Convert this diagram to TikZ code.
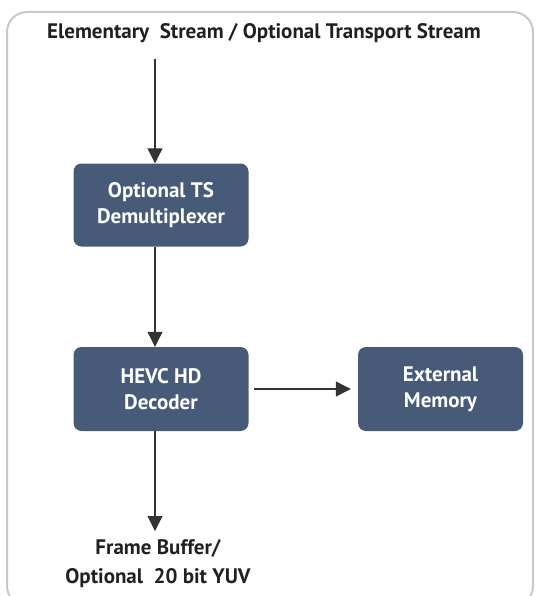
\documentclass[tikz,border=0pt]{standalone}
\usepackage{fontspec}
\setmainfont{PT Sans}
\usetikzlibrary{arrows.meta}
\definecolor{boxfill}{HTML}{475A78}
\definecolor{framegray}{HTML}{C8C8C8}
\definecolor{txt}{HTML}{231F20}
\definecolor{arr}{HTML}{333333}
\begin{document}
\begin{tikzpicture}[x=1pt,y=-1pt,
  blk/.style={draw=none,fill=boxfill,rounded corners=8pt,text=white,font=\bfseries\fontsize{21}{26}\selectfont,align=center,inner sep=0pt},
  lbl/.style={text=txt,font=\bfseries\fontsize{21}{29}\selectfont,align=center,inner sep=0pt},
  conn/.style={draw=arr,line width=1.1pt,-{Triangle[length=15pt,width=15pt]}}]
\useasboundingbox (0,0) rectangle (536,596);
\draw[framegray,line width=2pt,rounded corners=20pt] (7,12) rectangle (533,606);
\node[lbl] (title) at (264,33) {Elementary\ \ Stream / Optional Transport Stream};
\coordinate (src) at (155,59);
\node[blk,minimum width=175pt,minimum height=83pt] (demux) at (161,205) {Optional TS\\Demultiplexer};
\node[blk,minimum width=175pt,minimum height=84pt] (dec) at (161,389) {HEVC HD\\Decoder};
\node[blk,minimum width=165pt,minimum height=84pt] (mem) at (440.5,389) {External\\Memory};
\coordinate (sink) at (155,531);
\node[lbl] (out) at (158,564) {Frame Buffer/\\Optional\ \ 20 bit YUV};
\draw[conn] (src) -- (src |- demux.north);
\draw[conn] (src |- demux.south) -- (src |- dec.north);
\draw[conn] (src |- dec.south) -- (sink);
\draw[conn] ([xshift=5pt]dec.east) -- ([xshift=-7pt]mem.west);
\end{tikzpicture}
\end{document}
